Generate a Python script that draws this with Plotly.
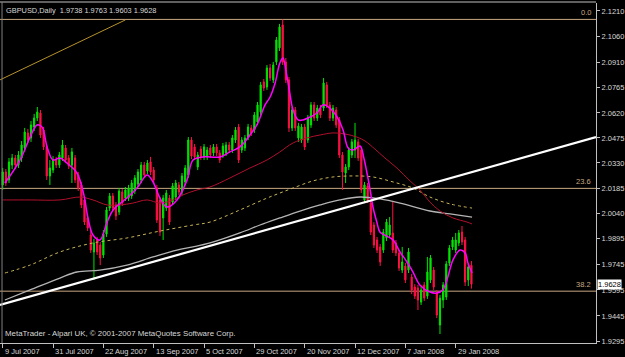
import plotly.graph_objects as go

# ---------------- data ----------------
date_labels = ["9 Jul 2007", "31 Jul 2007", "22 Aug 2007", "13 Sep 2007", "5 Oct 2007",
               "29 Oct 2007", "20 Nov 2007", "12 Dec 2007", "7 Jan 2008", "29 Jan 2008"]
date_label_idx = [0, 16, 32, 48, 64, 80, 96, 112, 128, 144]

y_ticks = [2.1210, 2.1060, 2.0910, 2.0765, 2.0620, 2.0475, 2.0330, 2.0185,
           2.0040, 1.9895, 1.9745, 1.9595, 1.9445, 1.9295]

opens = [
    2.0203, 2.0278, 2.0232, 2.0318, 2.0359, 2.0318, 2.0359, 2.0417, 2.0504, 2.0475,
    2.0538, 2.0590, 2.0619, 2.0521, 2.0423, 2.0255, 2.0289, 2.0347, 2.0318, 2.0359,
    2.0417, 2.0359, 2.0318, 2.0359, 2.0260, 2.0203, 2.0116, 2.0012, 1.9913, 1.9815,
    1.9884, 1.9855, 1.9797, 1.9919, 2.0069, 2.0139, 2.0087, 2.0046, 2.0162, 2.0127,
    2.0127, 2.0139, 2.0168, 2.0208, 2.0232, 2.0318, 2.0284, 2.0336, 2.0289, 2.0185,
    2.0116, 2.0012, 2.0069, 2.0127, 2.0104, 2.0133, 2.0203, 2.0162, 2.0220, 2.0260,
    2.0463, 2.0423, 2.0307, 2.0411, 2.0365, 2.0365, 2.0417, 2.0388, 2.0423, 2.0388,
    2.0376, 2.0388, 2.0434, 2.0405, 2.0463, 2.0538, 2.0405, 2.0417, 2.0480, 2.0533,
    2.0521, 2.0567, 2.0625, 2.0799, 2.0770, 2.0880, 2.0811, 2.0915, 2.0996, 2.1129,
    2.0915, 2.0811, 2.0533, 2.0637, 2.0475, 2.0463, 2.0538, 2.0463, 2.0550, 2.0666,
    2.0590, 2.0648, 2.0648, 2.0782, 2.0666, 2.0590, 2.0637, 2.0579, 2.0376, 2.0272,
    2.0307, 2.0376, 2.0405, 2.0452, 2.0405, 2.0116, 2.0197, 2.0098, 1.9971, 1.9884,
    1.9844, 1.9826, 1.9896, 1.9913, 1.9925, 1.9867, 1.9809, 1.9710, 1.9734, 1.9710,
    1.9670, 1.9612, 1.9606, 1.9525, 1.9624, 1.9560, 1.9653, 1.9710, 1.9577, 1.9392,
    1.9537, 1.9554, 1.9751, 1.9844, 1.9826, 1.9867, 1.9930, 1.9884, 1.9653, 1.9738,
]
highs = [
    2.0301, 2.0295, 2.0359, 2.0382, 2.0376, 2.0399, 2.0457, 2.0533, 2.0527, 2.0573,
    2.0614, 2.0654, 2.0637, 2.0538, 2.0434, 2.0347, 2.0370, 2.0365, 2.0394, 2.0463,
    2.0434, 2.0376, 2.0417, 2.0376, 2.0278, 2.0220, 2.0133, 2.0029, 1.9942, 1.9890,
    1.9902, 1.9873, 1.9942, 2.0075, 2.0156, 2.0156, 2.0104, 2.0185, 2.0179, 2.0191,
    2.0203, 2.0232, 2.0260, 2.0295, 2.0336, 2.0336, 2.0347, 2.0365, 2.0307, 2.0203,
    2.0133, 2.0145, 2.0174, 2.0145, 2.0214, 2.0232, 2.0220, 2.0272, 2.0318, 2.0480,
    2.0480, 2.0440, 2.0394, 2.0428, 2.0440, 2.0423, 2.0434, 2.0440, 2.0440, 2.0405,
    2.0446, 2.0452, 2.0452, 2.0492, 2.0538, 2.0556, 2.0480, 2.0492, 2.0556, 2.0550,
    2.0625, 2.0683, 2.0799, 2.0816, 2.0897, 2.0903, 2.0915, 2.1059, 2.1135, 2.1161,
    2.0938, 2.0828, 2.0654, 2.0654, 2.0562, 2.0556, 2.0556, 2.0608, 2.0683, 2.0683,
    2.0666, 2.0666, 2.0822, 2.0799, 2.0683, 2.0666, 2.0654, 2.0596, 2.0394, 2.0324,
    2.0423, 2.0469, 2.0562, 2.0469, 2.0423, 2.0220, 2.0214, 2.0116, 1.9988, 1.9902,
    1.9861, 1.9948, 2.0006, 2.0017, 2.0110, 1.9884, 1.9826, 1.9844, 1.9751, 1.9838,
    1.9687, 1.9629, 1.9624, 1.9612, 1.9641, 1.9786, 1.9797, 1.9728, 1.9595, 1.9566,
    1.9641, 1.9762, 1.9855, 1.9902, 1.9925, 1.9942, 1.9965, 1.9902, 1.9745, 1.9763,
]
lows = [
    2.0174, 2.0197, 2.0214, 2.0295, 2.0295, 2.0301, 2.0336, 2.0394, 2.0446, 2.0452,
    2.0515, 2.0573, 2.0475, 2.0405, 2.0232, 2.0203, 2.0272, 2.0301, 2.0301, 2.0342,
    2.0330, 2.0295, 2.0214, 2.0214, 2.0168, 2.0069, 1.9971, 1.9936, 1.9809, 1.9653,
    1.9797, 1.9739, 1.9780, 1.9902, 2.0052, 2.0052, 2.0000, 2.0029, 2.0081, 2.0110,
    2.0110, 2.0122, 2.0150, 2.0191, 2.0214, 2.0243, 2.0266, 2.0260, 2.0214, 1.9983,
    1.9907, 1.9884, 2.0052, 1.9971, 2.0087, 2.0116, 2.0145, 2.0145, 2.0203, 2.0243,
    2.0353, 2.0347, 2.0289, 2.0347, 2.0347, 2.0347, 2.0359, 2.0370, 2.0370, 2.0330,
    2.0359, 2.0370, 2.0388, 2.0388, 2.0446, 2.0330, 2.0388, 2.0399, 2.0463, 2.0486,
    2.0504, 2.0550, 2.0608, 2.0747, 2.0753, 2.0805, 2.0793, 2.0897, 2.0978, 2.0897,
    2.0793, 2.0509, 2.0515, 2.0515, 2.0452, 2.0446, 2.0405, 2.0446, 2.0533, 2.0573,
    2.0573, 2.0590, 2.0631, 2.0648, 2.0573, 2.0573, 2.0533, 2.0359, 2.0174, 2.0214,
    2.0289, 2.0359, 2.0359, 2.0342, 2.0156, 2.0098, 2.0098, 1.9913, 1.9838, 1.9809,
    1.9734, 1.9809, 1.9878, 1.9896, 1.9809, 1.9791, 1.9705, 1.9693, 1.9635, 1.9693,
    1.9571, 1.9543, 1.9479, 1.9508, 1.9531, 1.9543, 1.9635, 1.9595, 1.9432, 1.9340,
    1.9490, 1.9537, 1.9734, 1.9826, 1.9809, 1.9849, 1.9855, 1.9618, 1.9618, 1.9603,
]
closes = [
    2.0278, 2.0214, 2.0336, 2.0359, 2.0318, 2.0376, 2.0434, 2.0509, 2.0463, 2.0550,
    2.0590, 2.0625, 2.0492, 2.0423, 2.0255, 2.0301, 2.0347, 2.0318, 2.0376, 2.0434,
    2.0347, 2.0313, 2.0394, 2.0232, 2.0185, 2.0087, 1.9988, 1.9954, 1.9826, 1.9867,
    1.9815, 1.9780, 1.9919, 2.0058, 2.0139, 2.0069, 2.0023, 2.0168, 2.0098, 2.0174,
    2.0185, 2.0214, 2.0243, 2.0278, 2.0318, 2.0260, 2.0330, 2.0278, 2.0232, 2.0000,
    1.9930, 2.0127, 2.0156, 1.9988, 2.0197, 2.0214, 2.0162, 2.0255, 2.0301, 2.0463,
    2.0370, 2.0365, 2.0376, 2.0365, 2.0423, 2.0405, 2.0376, 2.0423, 2.0388, 2.0347,
    2.0428, 2.0434, 2.0405, 2.0475, 2.0521, 2.0347, 2.0463, 2.0475, 2.0538, 2.0504,
    2.0608, 2.0666, 2.0782, 2.0764, 2.0880, 2.0822, 2.0897, 2.1042, 2.1117, 2.0915,
    2.0811, 2.0533, 2.0637, 2.0533, 2.0544, 2.0538, 2.0423, 2.0590, 2.0666, 2.0590,
    2.0648, 2.0608, 2.0793, 2.0666, 2.0590, 2.0648, 2.0550, 2.0376, 2.0278, 2.0307,
    2.0405, 2.0452, 2.0463, 2.0359, 2.0174, 2.0203, 2.0116, 1.9930, 1.9855, 1.9826,
    1.9757, 1.9930, 1.9988, 1.9971, 1.9826, 1.9809, 1.9722, 1.9757, 1.9653, 1.9815,
    1.9595, 1.9560, 1.9537, 1.9595, 1.9548, 1.9699, 1.9780, 1.9612, 1.9450, 1.9548,
    1.9624, 1.9745, 1.9838, 1.9884, 1.9884, 1.9925, 1.9873, 1.9641, 1.9728, 1.9628,
]

# fast moving average (magenta), read at sample bars
ma_fast_x = [0.7, 5.5, 8.7, 10.9, 12.5, 14.1, 16, 18.2, 20.4, 23.6, 25.8, 27.1, 28.7, 30.9,
             33.2, 35.1, 39.5, 42.7, 45.9, 47.8, 50, 52.2, 55.4, 58.6, 60.5, 63.7, 69.1,
             72.2, 75.4, 78.6, 80.8, 83.4, 85, 86.6, 88.1, 89.1, 90.1, 91, 92.3, 93.9, 95.5,
             97.7, 99.9, 101.8, 104, 106.3, 108.2, 109.8, 111.4, 113.6, 114.8, 115.8, 116.8,
             117.7, 119, 119.9, 122.1, 124.1, 126.3, 128.5, 130.4, 132.6, 135.8, 138, 139.9,
             141.5, 143.1, 145.4, 147, 147.9, 149.2]
ma_fast_y = [2.0214, 2.0347, 2.0480, 2.0550, 2.0538, 2.0423, 2.0347, 2.0359, 2.0330, 2.0272,
             2.0145, 2.0012, 1.9913, 1.9884, 1.9988, 2.0058, 2.0127, 2.0185, 2.0260, 2.0220,
             2.0127, 2.0075, 2.0116, 2.0232, 2.0347, 2.0365, 2.0365, 2.0394, 2.0423, 2.0492,
             2.0550, 2.0666, 2.0712, 2.0793, 2.0909, 2.0938, 2.0857, 2.0764, 2.0637, 2.0579,
             2.0579, 2.0596, 2.0619, 2.0666, 2.0648, 2.0596, 2.0521, 2.0417, 2.0405, 2.0428,
             2.0359, 2.0272, 2.0174, 2.0075, 1.9983, 1.9930, 1.9907, 1.9884, 1.9815, 1.9757,
             1.9699, 1.9624, 1.9583, 1.9577, 1.9595, 1.9670, 1.9768, 1.9826, 1.9809, 1.9751,
             1.9693]

# medium moving average (dark red)
ma_mid_x = [0, 8.7, 18.2, 24.6, 28.7, 33.2, 37.3, 41.4, 45.9, 50, 54.1, 57.3, 61.8, 65.9,
            72.2, 78.6, 84, 88.1, 92.3, 96.7, 100.9, 105, 108.8, 112.6, 115.2, 118.3, 121.5,
            125.3, 129.5, 132.6, 135.8, 139, 143.1, 147.6, 149.2]
ma_mid_y = [2.0116, 2.0116, 2.0116, 2.0133, 2.0116, 2.0087, 2.0087, 2.0098, 2.0116, 2.0098,
            2.0116, 2.0145, 2.0174, 2.0191, 2.0243, 2.0301, 2.0347, 2.0394, 2.0446, 2.0475,
            2.0492, 2.0504, 2.0498, 2.0480, 2.0457, 2.0411, 2.0359, 2.0301, 2.0226, 2.0174,
            2.0104, 2.0052, 2.0012, 1.9988, 1.9977]

# slow moving average (dotted khaki)
ma_slow_x = [0.7, 8.7, 18.2, 28.7, 39.5, 50, 60.5, 65.9, 75.4, 83.4, 88.1, 92.3, 98.6, 105,
             111.4, 117.7, 124.1, 130.4, 135.8, 142.2, 149.2]
ma_slow_y = [1.9693, 1.9739, 1.9815, 1.9867, 1.9896, 1.9936, 1.9971, 1.9988, 2.0058, 2.0122,
             2.0156, 2.0185, 2.0226, 2.0249, 2.0255, 2.0249, 2.0220, 2.0185, 2.0133, 2.0093,
             2.0069]

# longest moving average (grey)
ma_long_x = [0.7, 8.7, 18.2, 23.6, 30.9, 39.5, 47.8, 55.4, 60.5, 65.9, 75.4, 81.8, 88.1,
             94.5, 100.9, 107.2, 113.6, 119.9, 126.3, 135.8, 142.2, 149.2]
ma_long_y = [1.9537, 1.9595, 1.9664, 1.9699, 1.9710, 1.9739, 1.9786, 1.9826, 1.9844, 1.9867,
             1.9925, 1.9971, 2.0012, 2.0052, 2.0087, 2.0116, 2.0133, 2.0122, 2.0098, 2.0052,
             2.0035, 2.0017]

# drawn objects
trend_x = [-0.86, 188.6]
trend_y = [1.9508, 2.0480]
fib_diag_x = [-0.86, 39.0]
fib_diag_y = [2.0811, 2.1158]
fib_names = ["0.0", "23.6", "38.2"]
fib_levels = [2.1161, 2.0183, 1.9588]

title_text = "GBPUSD,Daily\u00a0 1.9738 1.9763 1.9603 1.9628"
footer_text = "MetaTrader - Alpari UK, \u00a9 2001-2007 MetaQuotes Software Corp."
last_price = 1.9628

# ---------------- figure ----------------
FONT = "Liberation Sans, Arial, sans-serif"
TXT = "#d8d8d8"
AX = "#c0c0c0"
FIB = "#c8a880"

x_idx = list(range(len(closes)))
fig = go.Figure()

for lvl in fib_levels:
    fig.add_shape(type="line", xref="paper", x0=0, x1=1, yref="y", y0=lvl, y1=lvl,
                  line=dict(color=FIB, width=1), layer="below")

fig.add_trace(go.Scatter(x=fib_diag_x, y=fib_diag_y, mode="lines",
                         line=dict(color="#b8922a", width=1), hoverinfo="skip"))
fig.add_trace(go.Scatter(x=ma_long_x, y=ma_long_y, mode="lines", line_shape="spline",
                         line=dict(color="#b4b4b4", width=1.3), hoverinfo="skip"))
fig.add_trace(go.Scatter(x=ma_slow_x, y=ma_slow_y, mode="lines", line_shape="spline",
                         line=dict(color="#c8b45a", width=1, dash="3px,3px"), hoverinfo="skip"))
fig.add_trace(go.Scatter(x=ma_mid_x, y=ma_mid_y, mode="lines", line_shape="spline",
                         line=dict(color="#b0102c", width=1), hoverinfo="skip"))

fig.add_trace(go.Candlestick(
    x=x_idx, open=opens, high=highs, low=lows, close=closes,
    increasing=dict(line=dict(color="#00e400", width=1), fillcolor="#00e400"),
    decreasing=dict(line=dict(color="#ff1044", width=1), fillcolor="#ff1044"),
    whiskerwidth=0, hoverinfo="skip"))

fig.add_trace(go.Scatter(x=ma_fast_x, y=ma_fast_y, mode="lines", line_shape="spline",
                         line=dict(color="#ff00ff", width=1.5), hoverinfo="skip"))
fig.add_trace(go.Scatter(x=trend_x, y=trend_y, mode="lines",
                         line=dict(color="#ffffff", width=2.2), hoverinfo="skip"))

# window border lines (left and top)
fig.add_shape(type="line", xref="paper", yref="paper", x0=0.0034, x1=0.0034, y0=0, y1=1.003,
              line=dict(color="#808080", width=1))
fig.add_shape(type="line", xref="paper", yref="paper", x0=0, x1=1, y0=1.0029, y1=1.0029,
              line=dict(color="#808080", width=1.5))

annotations = []
for name, lvl in zip(fib_names, fib_levels):
    annotations.append(dict(xref="paper", x=1, xanchor="right", xshift=-3, yref="y", y=lvl,
                            yanchor="bottom", yshift=0, text=name, showarrow=False,
                            font=dict(family=FONT, size=7.5, color=FIB)))
for idx, lab in zip(date_label_idx, date_labels):
    annotations.append(dict(xref="x", x=idx, xanchor="left", xshift=0, yref="paper", y=0,
                            yanchor="top", yshift=-2, text=lab, showarrow=False,
                            font=dict(family=FONT, size=7.5, color=TXT)))
annotations.append(dict(xref="paper", x=0, xanchor="left", xshift=4, yref="paper", y=1,
                        yanchor="top", yshift=-1, text=title_text, showarrow=False,
                        font=dict(family=FONT, size=7.4, color=TXT)))
annotations.append(dict(xref="paper", x=0, xanchor="left", xshift=3, yref="paper", y=0,
                        yanchor="bottom", yshift=3, text=footer_text, showarrow=False,
                        font=dict(family=FONT, size=7.9, color=TXT)))
annotations.append(dict(xref="paper", x=1, xanchor="left", xshift=1, yref="y", y=last_price,
                        yanchor="middle", text=f"{last_price:.4f}", showarrow=False,
                        bgcolor="#ffffff", borderpad=0,
                        font=dict(family=FONT, size=7.5, color="#000000")))

fig.update_layout(
    width=625, height=357,
    margin=dict(l=0, r=29, t=3, b=14, pad=0),
    paper_bgcolor="#000000", plot_bgcolor="#000000",
    showlegend=False, boxgap=0.45,
    annotations=annotations,
    xaxis=dict(range=[-0.86, 188.6], showgrid=False, zeroline=False,
               showline=True, linecolor=AX, linewidth=1,
               ticks="outside", ticklen=4, tickcolor=AX, tickwidth=1,
               tickvals=date_label_idx, showticklabels=False,
               rangeslider=dict(visible=False), fixedrange=True),
    yaxis=dict(range=[1.9288, 2.1256], side="right", showgrid=False, zeroline=False,
               showline=True, linecolor=AX, linewidth=1,
               ticks="outside", ticklen=3, tickcolor=AX, tickwidth=1,
               tickvals=y_ticks, ticktext=[f"{v:.4f}" for v in y_ticks],
               tickfont=dict(family=FONT, size=7.5, color=TXT), fixedrange=True),
)

fig.write_html("out.html")
